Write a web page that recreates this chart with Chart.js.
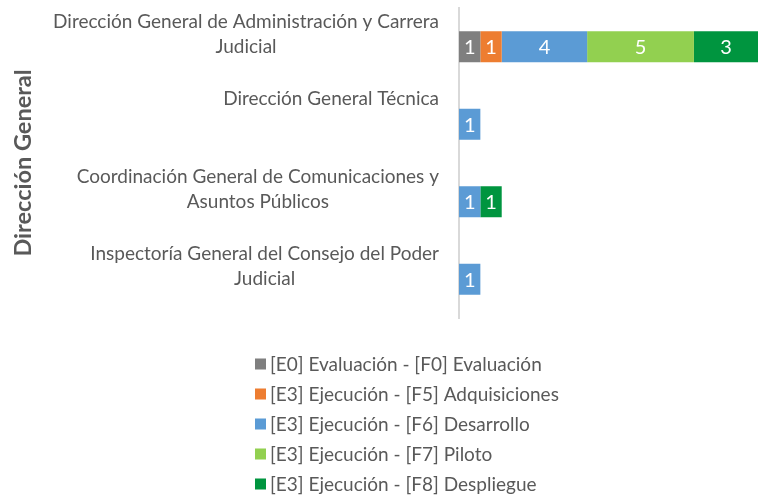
<!DOCTYPE html>
<html>
<head>
<meta charset="utf-8">
<script src="https://cdn.jsdelivr.net/npm/chart.js@4.4.1/dist/chart.umd.min.js"></script>
<style>
html,body{margin:0;padding:0;background:#fff;}
#wrap{width:768px;height:496px;position:relative;}
</style>
</head>
<body>
<div id="wrap"><canvas id="c" width="768" height="496"></canvas></div>
<script>
const categories = [
  ["Dirección General de Administración y Carrera", "Judicial"],
  ["Dirección General Técnica", ""],
  ["Coordinación General de Comunicaciones y", "Asuntos Públicos"],
  ["Inspectoría General del Consejo del Poder", "Judicial"]
];
const seriesNames = [
  "[E0] Evaluación - [F0] Evaluación",
  "[E3] Ejecución - [F5] Adquisiciones",
  "[E3] Ejecución - [F6] Desarrollo",
  "[E3] Ejecución - [F7] Piloto",
  "[E3] Ejecución - [F8] Despliegue"
];
const evaluacion    = [1, null, null, null];
const adquisiciones = [1, null, null, null];
const desarrollo    = [4, 1, 1, 1];
const piloto        = [5, null, null, null];
const despliegue    = [3, null, 1, null];
const seriesColors = ["#7f7f7f", "#ed7d31", "#5b9bd5", "#92d050", "#00953f"];
const axisTitle = "Dirección General";

const FONT = "Lato, 'Liberation Sans', sans-serif";
const TXT = "#595959";

const customDraw = {
  id: 'customDraw',
  afterDatasetsDraw(chart) {
    const ctx = chart.ctx;
    ctx.save();
    ctx.fillStyle = "#ffffff";
    ctx.font = "20px " + FONT;
    ctx.textAlign = "center";
    ctx.textBaseline = "middle";
    chart.data.datasets.forEach((ds, di) => {
      const meta = chart.getDatasetMeta(di);
      meta.data.forEach((el, i) => {
        const v = ds.data[i];
        if (v == null || v === 0) return;
        const p = el.getProps(['x', 'y', 'base'], true);
        ctx.fillText(String(v), (p.x + p.base) / 2, p.y + 1);
      });
    });
    ctx.restore();
  },
  afterDraw(chart) {
    const ctx = chart.ctx;
    const yScale = chart.scales.y;
    ctx.save();
    // category labels
    ctx.font = "19px " + FONT;
    ctx.fillStyle = TXT;
    ctx.textBaseline = "middle";
    ctx.textAlign = "center";
    const rightEdge = chart.chartArea.left - 20;
    const lh = 25;
    categories.forEach((lines, i) => {
      const yc = yScale.getPixelForValue(i);
      const w = Math.max(...lines.map(l => ctx.measureText(l).width));
      const cx = rightEdge - w / 2;
      const n = lines.length;
      lines.forEach((l, k) => {
        ctx.fillText(l, cx, yc - (n - 1 - k) * lh);
      });
    });
    // axis title
    ctx.save();
    ctx.font = "bold 23.5px " + FONT;
    ctx.translate(23, (chart.chartArea.top + chart.chartArea.bottom) / 2);
    ctx.rotate(-Math.PI / 2);
    ctx.textAlign = "center";
    ctx.textBaseline = "middle";
    ctx.fillText(axisTitle, 0, 0);
    ctx.restore();
    // legend
    ctx.font = "19px " + FONT;
    ctx.textAlign = "left";
    ctx.textBaseline = "middle";
    const lx = 255, ly0 = 364, step = 30;
    chart.data.datasets.forEach((ds, i) => {
      const y = ly0 + i * step;
      ctx.fillStyle = ds.backgroundColor;
      ctx.fillRect(lx, y - 5.5, 11, 11);
      ctx.fillStyle = TXT;
      ctx.fillText(ds.label, lx + 15, y + 1);
    });
    ctx.restore();
  }
};

const datasets = [evaluacion, adquisiciones, desarrollo, piloto, despliegue].map((d, i) => ({
  label: seriesNames[i],
  data: d,
  backgroundColor: seriesColors[i],
  borderWidth: 0,
  categoryPercentage: 0.8,
  barPercentage: 0.5
}));

new Chart(document.getElementById('c'), {
  type: 'bar',
  data: { labels: categories.map(c => c.join(' ')), datasets },
  options: {
    indexAxis: 'y',
    responsive: false,
    animation: false,
    layout: { padding: { left: 0, right: 10, top: 8, bottom: 178 } },
    plugins: { legend: { display: false }, tooltip: { enabled: false } },
    scales: {
      x: { stacked: true, min: 0, max: 14, display: false },
      y: {
        stacked: true,
        grid: { display: false, drawTicks: false },
        ticks: { display: false },
        border: { display: true, color: '#d9d9d9', width: 2 },
        afterFit(s) { s.width = 459; }
      }
    }
  },
  plugins: [customDraw]
});
</script>
</body>
</html>
